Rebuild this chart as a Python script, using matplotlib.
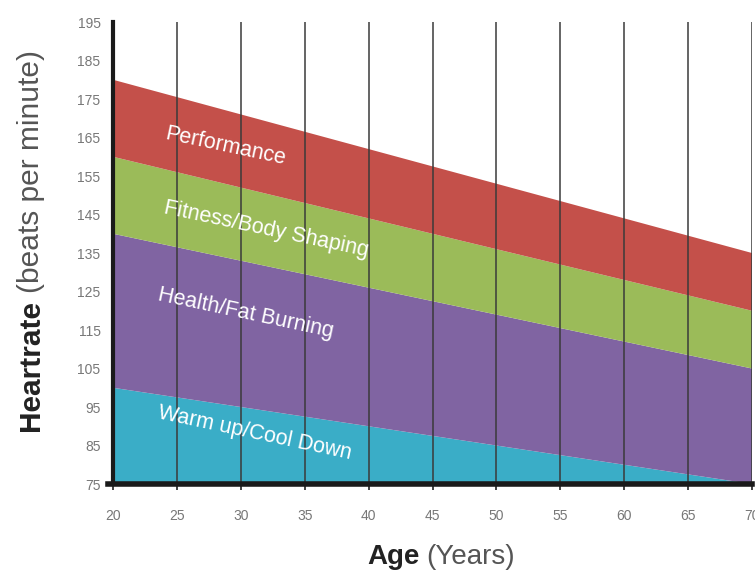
import matplotlib
matplotlib.use('Agg')
from matplotlib import pyplot as plt

ages = [20, 70]
warm_top = [100, 75]
health_top = [140, 105]
fitness_top = [160, 120]
perf_top = [180, 135]
bottom = [75, 75]

zone_names = ['Warm up/Cool Down', 'Health/Fat Burning', 'Fitness/Body Shaping', 'Performance']
zone_colors = ['#3AADC7', '#8064A2', '#9BBB59', '#C4504A']
label_pos = [(31.1, 88.3), (30.4, 119.4), (32.0, 141.0), (28.8, 162.6)]

x_ticks = list(range(20, 71, 5))
y_ticks = list(range(75, 196, 10))

plt.rcParams['font.family'] = ['Liberation Sans', 'DejaVu Sans']

fig = plt.figure(dpi=100, figsize=(7.55, 5.73))
ax = fig.add_axes([0.1497, 0.1553, 0.8463, 0.8063])

lows = [bottom, warm_top, health_top, fitness_top]
highs = [warm_top, health_top, fitness_top, perf_top]
for lo, hi, c in zip(lows, highs, zone_colors):
    ax.fill_between(ages, lo, hi, facecolor=c, linewidth=0, zorder=1)

for x in x_ticks[1:]:
    ax.axvline(x, color='#3a3a3a', lw=1.1, zorder=2)

for name, (tx, ty) in zip(zone_names, label_pos):
    ax.text(tx, ty, name, color='white', fontsize=15.5, rotation=-12,
            ha='center', va='center', rotation_mode='anchor', zorder=3)

ax.set_xlim(20, 70)
ax.set_ylim(75, 195)
ax.set_xticks(x_ticks)
ax.set_yticks(y_ticks)
ax.tick_params(axis='both', labelsize=10, labelcolor='#777777', colors='#222222')
ax.tick_params(axis='x', length=4, width=1.2, pad=14)
ax.tick_params(axis='y', length=0, pad=9)
ax.get_xticklabels()[-1].set_clip_on(False)

for s in ['top', 'right']:
    ax.spines[s].set_visible(False)
ax.spines['left'].set_linewidth(3)
ax.spines['left'].set_color('#1a1a1a')
ax.spines['bottom'].set_linewidth(4)
ax.spines['bottom'].set_color('#1a1a1a')
ax.spines['bottom'].set_bounds(19.6, 70)
ax.spines['left'].set_zorder(4)
ax.spines['bottom'].set_zorder(4)

# axis titles with bold + regular parts
fig.canvas.draw()
r = fig.canvas.get_renderer()
t1 = fig.text(367 / 755, 1 - 557 / 573, 'Age', fontsize=20, fontweight='bold',
              color='#222222', ha='left', va='center')
bb = t1.get_window_extent(r)
fig.text((bb.x1 + 7) / 755, 1 - 557 / 573, '(Years)', fontsize=20,
         color='#555555', ha='left', va='center')

t2 = fig.text(31 / 755, 1 - 431 / 573, 'Heartrate', fontsize=21.5, fontweight='bold',
              color='#222222', rotation=90, ha='center', va='bottom')
bb = t2.get_window_extent(r)
fig.text(31 / 755, (bb.y1 + 7) / 573, '(beats per minute)', fontsize=21.5,
         color='#555555', rotation=90, ha='center', va='bottom')

plt.savefig('out.png', dpi=100)
